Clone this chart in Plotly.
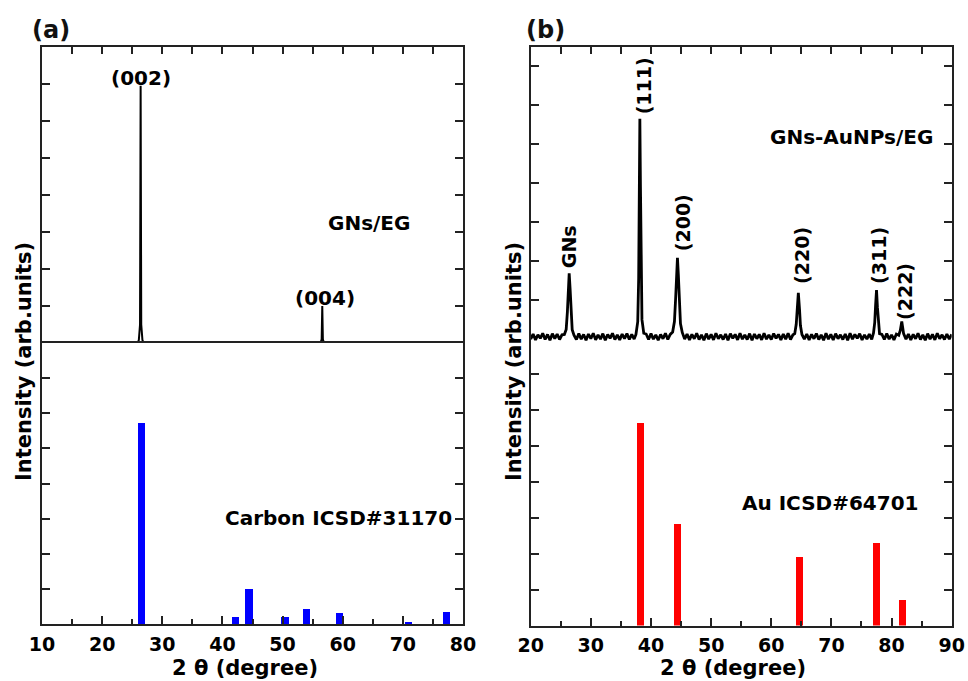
import plotly.graph_objects as go

# ---------------- data ----------------
# (a) GNs/EG measured pattern
two_theta_a = [10.0, 25.9, 26.1, 26.3, 26.4, 26.5, 26.7, 26.9, 30.0, 56.3, 56.5, 56.6, 56.7, 56.9, 80.0]
intensity_a = [0.0, 0.0, 0.08, 0.5, 6.95, 0.5, 0.08, 0.0, 0.0, 0.0, 0.1, 1.0, 0.1, 0.0, 0.0]

# (a) Carbon ICSD#31170 reference lines
carbon_pos = [26.5, 42.2, 44.4, 50.4, 54.0, 59.4, 70.9, 77.3]
carbon_int = [5.72, 0.20, 0.99, 0.20, 0.42, 0.31, 0.06, 0.33]

two_theta_b = [
    20.0, 20.4, 20.8, 21.2, 21.6, 22.0, 22.4, 22.8, 23.2, 23.6, 24.0, 24.4, 24.8, 25.2,
    25.6, 25.9, 26.1, 26.25, 26.4, 26.55, 26.7, 26.9, 27.2,
    27.6, 28.0, 28.4, 28.8, 29.2, 29.6, 30.0, 30.4, 30.8, 31.2, 31.6, 32.0, 32.4, 32.8, 33.2,
    33.6, 34.0, 34.4, 34.8, 35.2, 35.6, 36.0, 36.4, 36.8, 37.2,
    37.5, 37.8, 37.95, 38.05, 38.15, 38.25, 38.35, 38.5, 38.8,
    39.2, 39.6, 40.0, 40.4, 40.8, 41.2, 41.6, 42.0, 42.4, 42.8, 43.2,
    43.6, 43.9, 44.1, 44.25, 44.4, 44.55, 44.7, 44.9, 45.2,
    45.6, 46.0, 46.4, 46.8, 47.2, 47.6, 48.0, 48.4, 48.8, 49.2,
    49.6, 50.0, 50.4, 50.8, 51.2, 51.6, 52.0, 52.4, 52.8, 53.2,
    53.6, 54.0, 54.4, 54.8, 55.2, 55.6, 56.0, 56.4, 56.8, 57.2,
    57.6, 58.0, 58.4, 58.8, 59.2, 59.6, 60.0, 60.4, 60.8, 61.2,
    61.6, 62.0, 62.4, 62.8, 63.2, 63.6,
    63.9, 64.15, 64.3, 64.5, 64.7, 64.85, 65.1,
    65.5, 65.9, 66.3, 66.7, 67.1, 67.5, 67.9, 68.3, 68.7, 69.1,
    69.5, 69.9, 70.3, 70.7, 71.1, 71.5, 71.9, 72.3, 72.7, 73.1,
    73.5, 73.9, 74.3, 74.7, 75.1, 75.5, 75.9, 76.3, 76.7,
    77.0, 77.2, 77.35, 77.5, 77.65, 77.8, 78.0,
    78.4, 78.8, 79.2, 79.6, 80.0, 80.4, 80.8, 81.2,
    81.45, 81.6, 81.7, 81.85, 82.0,
    82.4, 82.8, 83.2, 83.6, 84.0, 84.4, 84.8, 85.2, 85.6, 86.0,
    86.4, 86.8, 87.2, 87.6, 88.0, 88.4, 88.8, 89.2, 89.6, 90.0,
]
intensity_b = [
    0.00, 0.13, -0.02, 0.11, 0.02, 0.15, -0.01, 0.12, -0.03, 0.14, 0.01, 0.13, -0.01, 0.11,
    0.12, 0.25, 0.70, 1.35, 1.69, 1.30, 0.65, 0.24, 0.10,
    -0.01, 0.14, 0.00, 0.12, -0.03, 0.13, 0.01, 0.15, -0.02, 0.11, 0.00, 0.14, -0.03, 0.12, 0.02,
    0.15, -0.01, 0.11, -0.02, 0.13, 0.01, 0.14, -0.01, 0.12, 0.00,
    0.12, 0.45, 1.55, 3.80, 5.66, 3.90, 1.65, 0.50, 0.15,
    0.13, -0.01, 0.14, 0.00, 0.11, -0.03, 0.12, 0.01, 0.15, -0.01, 0.12,
    0.18, 0.45, 1.05, 1.70, 2.09, 1.65, 0.95, 0.40, 0.17,
    0.00, 0.13, -0.02, 0.12, 0.01, 0.15, -0.01, 0.11, -0.03, 0.14,
    0.00, 0.12, -0.02, 0.15, 0.01, 0.11, -0.01, 0.13, -0.03, 0.14,
    0.02, 0.12, -0.02, 0.15, 0.00, 0.11, -0.01, 0.14, -0.03, 0.13,
    0.01, 0.12, -0.02, 0.15, 0.00, 0.11, -0.01, 0.14, 0.02, 0.12,
    -0.02, 0.13, 0.00, 0.15, -0.01, 0.11,
    0.14, 0.38, 0.78, 1.19, 0.76, 0.35, 0.12,
    0.00, 0.13, -0.02, 0.12, 0.01, 0.14, -0.01, 0.11, -0.03, 0.15,
    0.00, 0.12, -0.02, 0.14, 0.01, 0.11, -0.01, 0.13, -0.03, 0.15,
    0.00, 0.12, 0.02, 0.14, -0.02, 0.11, 0.00, 0.13, -0.01,
    0.16, 0.42, 0.88, 1.26, 0.82, 0.38, 0.14,
    0.12, -0.01, 0.14, 0.00, 0.11, -0.02, 0.13, 0.10,
    0.22, 0.38, 0.45, 0.30, 0.14,
    0.00, 0.13, -0.02, 0.12, 0.01, 0.15, -0.01, 0.11, -0.03, 0.14,
    0.00, 0.12, -0.02, 0.15, 0.01, 0.11, -0.01, 0.13, 0.00, 0.12,
]

# (b) Au ICSD#64701 reference lines
au_pos = [38.2, 44.4, 64.6, 77.5, 81.7]
au_int = [5.64, 2.83, 1.90, 2.29, 0.71]

x_ticks_a = [10, 20, 30, 40, 50, 60, 70, 80]
x_ticks_b = [20, 30, 40, 50, 60, 70, 80, 90]
y_ticks = [1, 2, 3, 4, 5, 6, 7]

# ---------------- figure ----------------
W, H = 968, 681
FONT = "DejaVu Sans"
FRAME = "#222222"


def px_x(p):
    return p / W


def px_y(p):
    return 1 - p / H


fig = go.Figure()
fig.add_trace(go.Scatter(x=two_theta_a, y=intensity_a, mode="lines",
                         line=dict(color="black", width=2), xaxis="x", yaxis="y"))
fig.add_trace(go.Bar(x=carbon_pos, y=carbon_int, width=1.2, marker=dict(color="#0000ff", line=dict(width=0)),
                     xaxis="x2", yaxis="y2"))
fig.add_trace(go.Scatter(x=two_theta_b, y=intensity_b, mode="lines",
                         line=dict(color="black", width=2.8), xaxis="x3", yaxis="y3"))
fig.add_trace(go.Bar(x=au_pos, y=au_int, width=1.15, marker=dict(color="#ff0000", line=dict(width=0)),
                     xaxis="x4", yaxis="y4"))

dom_a = [px_x(42), px_x(463)]
dom_b = [px_x(530.7), px_x(951.7)]
a_top = [px_y(343), px_y(47)]
a_bot = [px_y(624), px_y(343)]
b_top = [px_y(343), px_y(47)]
b_bot = [px_y(625.5), px_y(343)]

tickfont = dict(family=FONT, size=19, color="black", weight="bold")

common_line = dict(showline=True, linewidth=2, linecolor=FRAME, showgrid=False, zeroline=False,
                   tickcolor=FRAME, tickwidth=1.5, automargin=False)


def top_x(domain, anchor, rng):
    return dict(domain=domain, anchor=anchor, range=rng, side="top", ticks="inside", ticklen=7,
                dtick=5, tick0=rng[0], showticklabels=False, mirror=False, **common_line)


def bot_x(domain, anchor, rng, tv, mirror):
    return dict(domain=domain, anchor=anchor, range=rng, side="bottom", ticks="inside", ticklen=8,
                tickvals=tv, ticktext=[str(v) for v in tv], tickfont=tickfont, ticklabelstandoff=2,
                minor=dict(tickvals=[v + 5 for v in tv[:-1]], ticks="inside", ticklen=5,
                           tickcolor=FRAME, tickwidth=1.5),
                mirror=mirror, **common_line)


def left_y(domain, anchor, rng):
    return dict(domain=domain, anchor=anchor, range=rng, ticks="inside", ticklen=8,
                tickvals=y_ticks, showticklabels=False, mirror="ticks", **common_line)


fig.update_layout(
    width=W, height=H, autosize=False,
    margin=dict(l=0, r=0, t=0, b=0, pad=0, autoexpand=False),
    paper_bgcolor="white", plot_bgcolor="white",
    showlegend=False,
    bargap=0,
    xaxis=top_x(dom_a, "y", [10, 80]),
    yaxis=left_y(a_top, "x", [0, 8]),
    xaxis2=bot_x(dom_a, "y2", [10, 80], x_ticks_a, True),
    yaxis2=left_y(a_bot, "x2", [0, 8]),
    xaxis3=top_x(dom_b, "y3", [20, 90]),
    yaxis3=left_y(b_top, "x3", [-0.1, 7.5]),
    xaxis4=bot_x(dom_b, "y4", [20, 90], x_ticks_b, False),
    yaxis4=left_y(b_bot, "x4", [0, 7.85]),
)

bold = dict(family=FONT, size=19, color="black", weight="bold")
big = dict(family=FONT, size=20, color="black", weight="bold")

ann = []


def add(text, x, y, xref, yref, font, angle=0, xanchor="center", yanchor="middle"):
    ann.append(dict(text=text, x=x, y=y, xref=xref, yref=yref, showarrow=False, font=font,
                    textangle=angle, xanchor=xanchor, yanchor=yanchor))


# panel letters
add("(a)", px_x(51), px_y(30), "paper", "paper", dict(family=FONT, size=24, color="#111", weight="bold"))
add("(b)", px_x(545), px_y(30), "paper", "paper", dict(family=FONT, size=24, color="#111", weight="bold"))

# panel (a) labels
add("(002)", 26.4, 7.16, "x", "y", big)
add("(004)", 57.0, 1.22, "x", "y", big)
add("GNs/EG", 64.45, 3.24, "x", "y", big)
add("Carbon ICSD#31170", 59.3, 3.02, "x2", "y2", big)

# panel (b) labels
add("GNs-AuNPs/EG", 73.4, 5.18, "x3", "y3", big)
add("Au ICSD#64701", 69.85, 3.41, "x4", "y4", big)
add("GNs", 26.37, 2.36, "x3", "y3", bold, angle=-90)
add("(111)", 38.84, 6.49, "x3", "y3", bold, angle=-90)
add("(200)", 45.32, 3.0, "x3", "y3", bold, angle=-90)
add("(220)", 65.1, 2.16, "x3", "y3", bold, angle=-90)
add("(311)", 77.9, 2.16, "x3", "y3", bold, angle=-90)
add("(222)", 82.2, 1.23, "x3", "y3", bold, angle=-90)

# axis titles
title_font = dict(family=FONT, size=21, color="black", weight="bold")
add("2 θ (degree)", px_x(245), px_y(668), "paper", "paper", title_font)
add("2 θ (degree)", px_x(733), px_y(668), "paper", "paper", title_font)
add("Intensity (arb.units)", px_x(24), px_y(362), "paper", "paper", title_font, angle=-90)
add("Intensity (arb.units)", px_x(514), px_y(362), "paper", "paper", title_font, angle=-90)

fig.update_layout(annotations=ann)

fig.write_html("out.html", config={"responsive": False, "displayModeBar": False},
               post_script="document.body.style.margin='0';document.body.style.overflow='hidden';")
